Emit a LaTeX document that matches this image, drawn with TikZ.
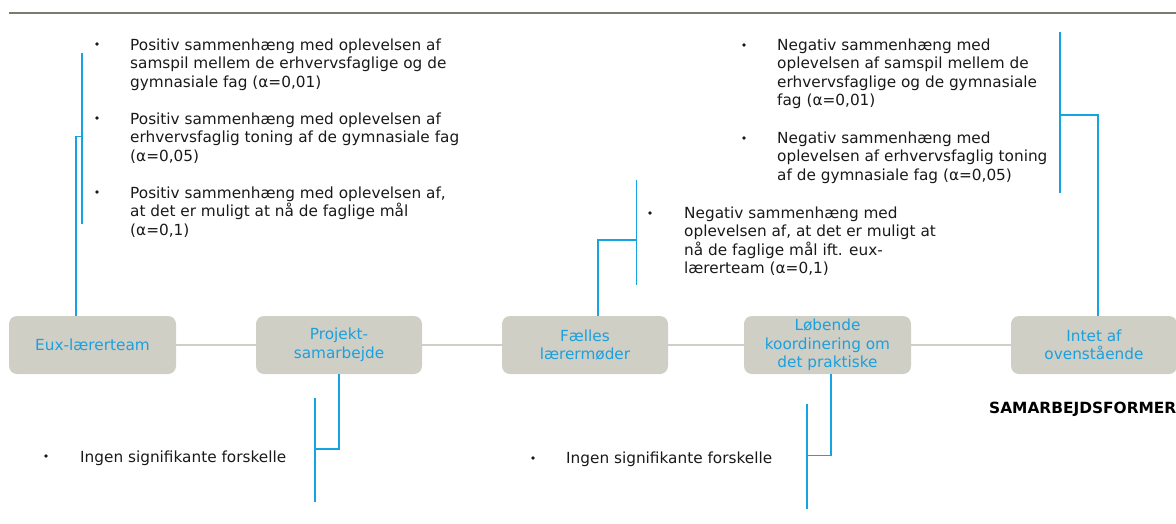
\documentclass[tikz,border=0pt]{standalone}
\usepackage{fontspec}
\setmainfont{DejaVu Sans}
\definecolor{boxfill}{RGB}{208,207,198}
\definecolor{boxtext}{RGB}{27,160,221}
\definecolor{brkblue}{RGB}{22,163,226}
\definecolor{toprule}{RGB}{120,124,108}
\definecolor{bodytext}{RGB}{25,25,25}
\newcommand\itmtext[1]{\parbox[t]{420pt}{\raggedright #1}}
\begin{document}
\begin{tikzpicture}[x=1pt,y=-1pt,
  box/.style={fill=boxfill, rounded corners=8pt, minimum height=58pt, inner sep=0pt,
    align=center, text=boxtext, font=\fontsize{15.3}{18.5}\selectfont},
  link/.style={draw=boxfill, line width=2pt},
  brk/.style={draw=brkblue, line width=1.7pt},
  rulestyle/.style={draw=toprule, line width=1.8pt},
  dot/.style={circle, fill=bodytext, inner sep=0pt, minimum size=3.8pt},
  item/.style={anchor=base west, inner sep=0pt, text=bodytext, font=\fontsize{15.3}{18.6}\selectfont},
]
\useasboundingbox (0,0) rectangle (1176,523);

% top rule
\coordinate (tl1) at (9,13);
\coordinate (tl2) at (1176,13);
\draw[rulestyle] (tl1) -- (tl2);

% boxes
\node[box, minimum width=167pt] (b1) at (92.5,345) {Eux-lærerteam};
\node[box, minimum width=166pt] (b2) at (339,345) {Projekt-\\samarbejde};
\node[box, minimum width=166pt] (b3) at (585,345) {Fælles\\lærermøder};
\node[box, minimum width=167pt] (b4) at (827.5,345) {Løbende\\koordinering om\\det praktiske};
\node[box, minimum width=166pt] (b5) at (1094,345) {Intet af\\ovenstående};

% links between boxes
\draw[link] (b1.east) -- (b2.west);
\draw[link] (b2.east) -- (b3.west);
\draw[link] (b3.east) -- (b4.west);
\draw[link] (b4.east) -- (b5.west);

% brackets
\coordinate (k1) at (82,136.5);
\coordinate (k1a) at (82,53);
\coordinate (k1b) at (82,224);
\draw[brk] ([xshift=-16.5pt]b1.north) |- (k1);
\draw[brk] (k1a) -- (k1b);

\coordinate (k2) at (315,449);
\coordinate (k2a) at (315,397.5);
\coordinate (k2b) at (315,502);
\draw[brk] (b2.south) |- (k2);
\draw[brk] (k2a) -- (k2b);

\coordinate (k3) at (636.5,240);
\coordinate (k3a) at (636.5,180);
\coordinate (k3b) at (636.5,285);
\draw[brk] ([xshift=13pt]b3.north) |- (k3);
\draw[brk] (k3a) -- (k3b);

\coordinate (k4) at (807,455.5);
\coordinate (k4a) at (807,404);
\coordinate (k4b) at (807,509);
\draw[brk] ([xshift=3.5pt]b4.south) |- (k4);
\draw[brk] (k4a) -- (k4b);

\coordinate (k5) at (1060,115);
\coordinate (k5a) at (1060,32);
\coordinate (k5b) at (1060,193);
\draw[brk] ([xshift=4pt]b5.north) |- (k5);
\draw[brk] (k5a) -- (k5b);

% block 1
\node[dot] (d11) at (97,44) {};
\node[item] (t11) at (130,50) {\itmtext{Positiv sammenhæng med oplevelsen af\\samspil mellem de erhvervsfaglige og de\\gymnasiale fag (α=0,01)}};
\node[dot] (d12) at (97,118) {};
\node[item] (t12) at (130,124) {\itmtext{Positiv sammenhæng med oplevelsen af\\erhvervsfaglig toning af de gymnasiale fag\\(α=0,05)}};
\node[dot] (d13) at (97,192) {};
\node[item] (t13) at (130,198) {\itmtext{Positiv sammenhæng med oplevelsen af,\\at det er muligt at nå de faglige mål\\(α=0,1)}};

% block 2
\node[dot] (d21) at (744,45) {};
\node[item] (t21) at (777,50) {\itmtext{Negativ sammenhæng med\\oplevelsen af samspil mellem de\\erhvervsfaglige og de gymnasiale\\fag (α=0,01)}};
\node[dot] (d22) at (744,138) {};
\node[item] (t22) at (777,143) {\itmtext{Negativ sammenhæng med\\oplevelsen af erhvervsfaglig toning\\af de gymnasiale fag (α=0,05)}};

% block 3
\node[dot] (d31) at (650,213) {};
\node[item] (t31) at (684,218) {\itmtext{Negativ sammenhæng med\\oplevelsen af, at det er muligt at\\nå de faglige mål ift. eux-\\lærerteam (α=0,1)}};

% bottom items
\node[dot] (d41) at (46,456) {};
\node[item] (t41) at (80,462) {Ingen signifikante forskelle};
\node[dot] (d51) at (533,458) {};
\node[item] (t51) at (566,463) {Ingen signifikante forskelle};

% axis title
\node[anchor=base west, inner sep=0pt, text=black, font=\fontsize{15.4}{18}\selectfont\bfseries] (title) at (989,413) {SAMARBEJDSFORMER};
\end{tikzpicture}
\end{document}
